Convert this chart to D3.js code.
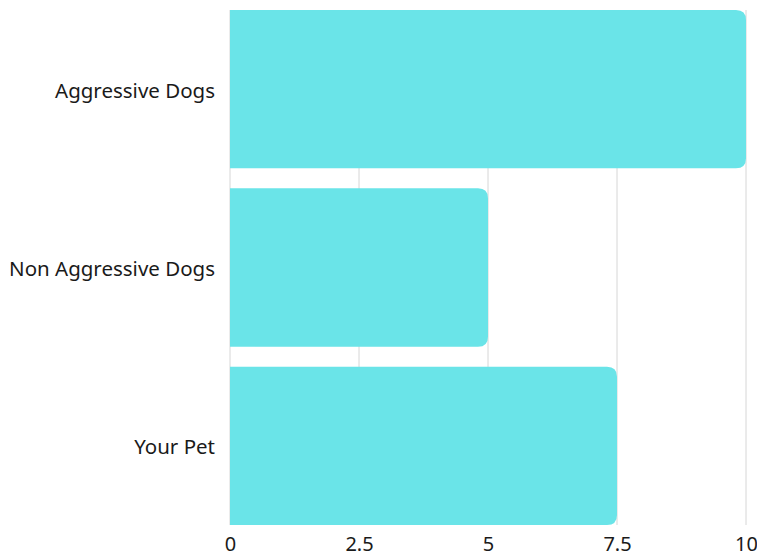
<!DOCTYPE html>
<html><head><meta charset="utf-8">
<script src="https://cdn.jsdelivr.net/npm/d3@7"></script>
<style>body{margin:0;background:#fff}svg{display:block}</style>
</head><body>
<script>
const categories = ["Aggressive Dogs", "Non Aggressive Dogs", "Your Pet"];
const values = [10, 5, 7.5];
const tickValues = [0, 2.5, 5, 7.5, 10];
const tickLabels = ["0", "2.5", "5", "7.5", "10"];

const W = 757, H = 557;
const svg = d3.select("body").append("svg").attr("width", W).attr("height", H);
const x = d3.scaleLinear().domain([0, 10]).range([230, 746]);
const y = d3.scaleBand().domain(categories).range([10, 525]).paddingInner(0.112).paddingOuter(0);
const font = "'Noto Sans', sans-serif";

// gridlines
svg.append("g").selectAll("line").data(tickValues).join("line")
  .attr("x1", d => x(d)).attr("x2", d => x(d))
  .attr("y1", 10).attr("y2", 525)
  .attr("stroke", "#d6d6d6").attr("stroke-width", 1);

const r = 10;
function barPath(d, i) {
  const x0 = x(0), x1 = x(d), y0 = y(categories[i]), h = y.bandwidth();
  return `M${x0},${y0}H${x1 - r}Q${x1},${y0} ${x1},${y0 + r}V${y0 + h - r}Q${x1},${y0 + h} ${x1 - r},${y0 + h}H${x0}Z`;
}
svg.append("g").selectAll("path").data(values).join("path")
  .attr("d", barPath).attr("fill", "#6ae4e8");

// y axis labels
const yAxis = d3.axisLeft(y).tickSize(0).tickPadding(15);
const gy = svg.append("g").attr("transform", `translate(230,2)`).call(yAxis);
gy.select(".domain").remove();
gy.selectAll("text").attr("font-family", font).attr("font-size", 20.5).attr("fill", "#1a1a1a");

// x axis labels
const xAxis = d3.axisBottom(x).tickValues(tickValues).tickFormat((d, i) => tickLabels[i]).tickSize(0).tickPadding(12);
const gx = svg.append("g").attr("transform", `translate(0,525)`).call(xAxis);
gx.select(".domain").remove();
gx.selectAll("text").attr("font-family", font).attr("font-size", 20).attr("fill", "#1a1a1a");
</script>
</body></html>
